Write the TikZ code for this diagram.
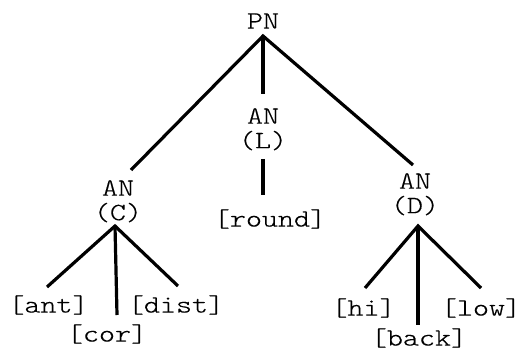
\documentclass[tikz,border=0pt]{standalone}
\usepackage{fontspec}
\setmonofont{lmmonolt10-regular}[Extension=.otf, FakeStretch=1.23, FakeBold=0.4]
\begin{document}
\begin{tikzpicture}[x=1pt,y=1pt,
  lbl/.style={font=\ttfamily\fontsize{24.8}{24.5}\selectfont, inner sep=0pt, align=center},
  edge/.style={line width=3.2pt}]
\useasboundingbox (0,0) rectangle (521,351);
% nodes
\node[lbl] (PN) at (263,330) {PN};
\node[lbl, anchor=north] (L) at (263,243) {AN\\(L)};
\node[lbl, anchor=north] (C) at (118,171) {AN\\(C)};
\node[lbl, anchor=north] (D) at (415,178) {AN\\(D)};
\node[lbl] (round) at (270,132) {[round]};
\node[lbl] (ant) at (48.5,46) {[ant]};
\node[lbl] (cor) at (107,17) {[cor]};
\node[lbl] (dist) at (176,46) {[dist]};
\node[lbl] (hi) at (363.5,43) {[hi]};
\node[lbl] (back) at (419,13) {[back]};
\node[lbl] (low) at (481,43) {[low]};
% connector end points
\coordinate (PNj) at (263,315);
\coordinate (PNl) at (131,181);
\coordinate (PNm) at (263,257);
\coordinate (PNr) at (413,186);
\coordinate (Lt) at (263,192);
\coordinate (Lb) at (263,156);
\coordinate (Cj) at (115,125);
\coordinate (Ca) at (47,64);
\coordinate (Cc) at (117,36);
\coordinate (Cd) at (178,65);
\coordinate (Dj) at (418,125);
\coordinate (Dh) at (365,63);
\coordinate (Db) at (418,26);
\coordinate (Dl) at (481,63);
% connectors
\draw[edge] (PNl) -- (PNj) -- (PNr);
\draw[edge] (PNj) -- (PNm);
\draw[edge] (Lt) -- (Lb);
\draw[edge] (Ca) -- (Cj) -- (Cd);
\draw[edge] (Cj) -- (Cc);
\draw[edge] (Dh) -- (Dj) -- (Dl);
\draw[edge] (Dj) -- (Db);
\end{tikzpicture}
\end{document}
